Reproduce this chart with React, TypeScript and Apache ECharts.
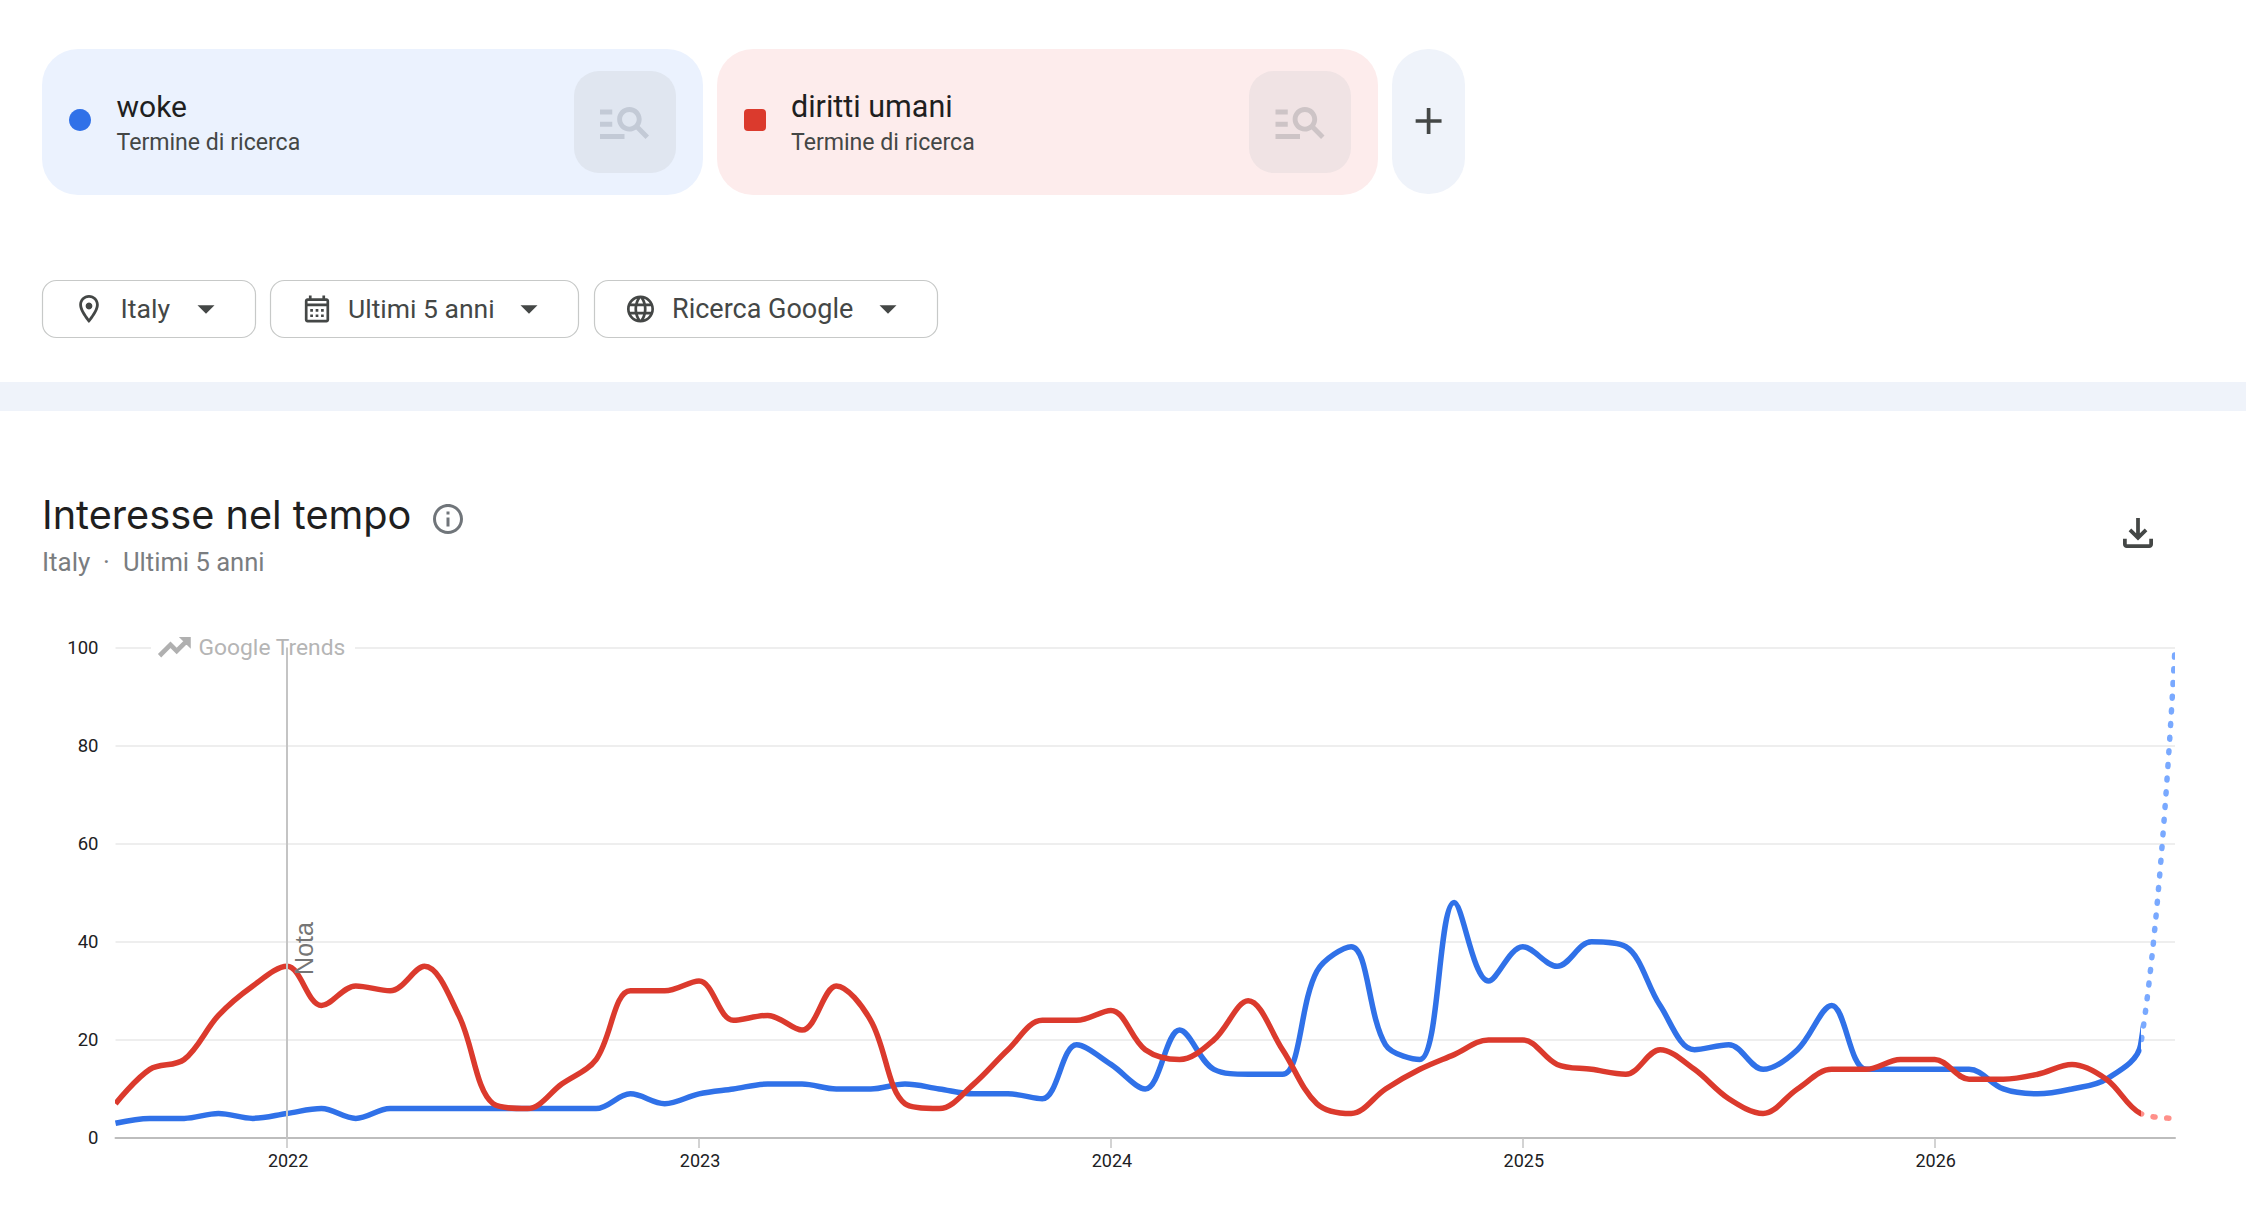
import React, { useEffect, useRef } from "react";
import * as echarts from "echarts";

const months = [
  "2021-08","2021-09","2021-10","2021-11","2021-12",
  "2022-01","2022-02","2022-03","2022-04","2022-05","2022-06","2022-07","2022-08","2022-09","2022-10","2022-11","2022-12",
  "2023-01","2023-02","2023-03","2023-04","2023-05","2023-06","2023-07","2023-08","2023-09","2023-10","2023-11","2023-12",
  "2024-01","2024-02","2024-03","2024-04","2024-05","2024-06","2024-07","2024-08","2024-09","2024-10","2024-11","2024-12",
  "2025-01","2025-02","2025-03","2025-04","2025-05","2025-06","2025-07","2025-08","2025-09","2025-10","2025-11","2025-12",
  "2026-01","2026-02","2026-03","2026-04","2026-05","2026-06","2026-07","2026-08",
];
const wokeValues = [
  3,4,4,5,4,
  5,6,4,6,6,6,6,6,6,6,9,7,
  9,10,11,11,10,10,11,10,9,9,8,19,
  15,10,22,14,13,13,34,39,19,16,48,32,
  39,35,40,39,27,18,19,14,18,27,14,14,
  14,14,10,9,10,12,19,100,
];
const dirittiValues = [
  7,14,16,25,31,
  35,27,31,30,35,25,7,6,11,16,30,30,
  32,24,25,22,31,24,7,6,11,18,24,24,
  26,18,16,20,28,18,7,5,10,14,17,20,
  20,15,14,13,18,14,8,5,10,14,14,16,
  16,12,12,13,15,12,5,4,
];
const yTicks = { min: 0, max: 100, step: 20 };
const lastComplete = 59; // index of the last complete month; the step after it is dotted

const PATHS: Record<string, string> = {
  pinIcon: "M12 2C8.13 2 5 5.13 5 9c0 5.25 7 13 7 13s7-7.75 7-13c0-3.87-3.13-7-7-7zM7 9c0-2.76 2.24-5 5-5s5 2.24 5 5c0 2.88-2.88 7.19-5 9.88C9.92 16.21 7 11.85 7 9z",
  calIcon: "M19 4h-1V2h-2v2H8V2H6v2H5c-1.1 0-2 .9-2 2v14c0 1.1.9 2 2 2h14c1.1 0 2-.9 2-2V6c0-1.1-.9-2-2-2zm0 16H5V10h14v10zm0-12H5V6h14v2zM7 12h2v2H7zM11 12h2v2h-2zM15 12h2v2h-2zM7 16h2v2H7zM11 16h2v2h-2zM15 16h2v2h-2z",
  globeIcon: "M11.99 2C6.47 2 2 6.48 2 12s4.47 10 9.99 10C17.52 22 22 17.52 22 12S17.52 2 11.99 2zm6.93 6h-2.95c-.32-1.25-.78-2.45-1.38-3.56 1.84.63 3.37 1.91 4.33 3.56zM12 4.04c.83 1.2 1.48 2.53 1.91 3.96h-3.82c.43-1.43 1.08-2.76 1.91-3.96zM4.26 14C4.1 13.36 4 12.69 4 12s.1-1.36.26-2h3.38c-.08.66-.14 1.32-.14 2 0 .68.06 1.34.14 2H4.26zm.82 2h2.95c.32 1.25.78 2.45 1.38 3.56-1.84-.63-3.37-1.9-4.33-3.56zm2.95-8H5.08c.96-1.66 2.49-2.93 4.33-3.56C8.81 5.55 8.35 6.75 8.03 8zM12 19.96c-.83-1.2-1.48-2.53-1.91-3.96h3.82c-.43 1.43-1.08 2.76-1.91 3.96zM14.34 14H9.66c-.09-.66-.16-1.32-.16-2 0-.68.07-1.35.16-2h4.68c.09.65.16 1.32.16 2 0 .68-.07 1.34-.16 2zm.25 5.56c.6-1.11 1.06-2.31 1.38-3.56h2.95c-.96 1.65-2.49 2.93-4.33 3.56zM16.36 14c.08-.66.14-1.32.14-2 0-.68-.06-1.34-.14-2h3.38c.16.64.26 1.31.26 2s-.1 1.36-.26 2h-3.38z",
  infoIcon: "M11 7h2v2h-2zm0 4h2v6h-2zm1-9C6.48 2 2 6.48 2 12s4.48 10 10 10 10-4.48 10-10S17.52 2 12 2zm0 18c-4.41 0-8-3.59-8-8s3.59-8 8-8 8 3.59 8 8-3.59 8-8 8z",
  downloadIcon: "M12 16L7 11l1.4-1.45L11 12.15V4h2v8.15l2.6-2.6L17 11zM6 20c-.55 0-1.02-.2-1.41-.59S4 18.55 4 18v-3h2v3h12v-3h2v3c0 .55-.2 1.02-.59 1.41S18.55 20 18 20z",
  searchIcon: "M7 9H2V7h5v2zm0 3H2v2h5v-2zm13.59 7-3.83-3.83c-.8.52-1.74.83-2.76.83-2.76 0-5-2.24-5-5s2.24-5 5-5 5 2.24 5 5c0 1.02-.31 1.96-.83 2.75L22 17.59 20.59 19zM17 11c0-1.65-1.35-3-3-3s-3 1.35-3 3 1.35 3 3 3 3-1.35 3-3zM2 19h10v-2H2v2z",
  trendIcon: "M16 6l2.29 2.29-4.88 4.88-4-4L2 16.59 3.41 18l6-6 4 4 6.3-6.29L22 12V6z",
  plusIcon: "M19 13h-6v6h-2v-6H5v-2h6V5h2v6h6v2z",
  arrowIcon: "M7 10l5 5 5-5z",
};
let registered = false;
function registerIcons() {
  if (registered) return;
  registered = true;
  Object.keys(PATHS).forEach((k) => {
    echarts.graphic.registerShape(k, echarts.graphic.extendPath(PATHS[k], {}) as any);
  });
}

const FONT = "Roboto, sans-serif";
// y is the text's baseline
const text = (s: string, x: number, y: number, size: number, fill: string, family = FONT) => ({
  type: "text", x, y: y - 0.35 * size, z: 5, silent: true,
  style: { text: s, font: `${size}px ${family}`, fill, align: "left", verticalAlign: "middle" },
});
const box = (x: number, y: number, w: number, h: number, r: number, style: any, z = 1) => ({
  type: "rect", z, silent: true, shape: { x, y, width: w, height: h, r }, style,
});
// icon centred on (cx, cy), where (ox, oy) is the centre of the glyph in its 24-unit box
const icon = (name: string, cx: number, cy: number, s: number, fill: string, ox = 12, oy = 12, extra: any = {}) => ({
  type: name, x: cx - ox * s, y: cy - oy * s, scaleX: s, scaleY: s, z: 5, silent: true, style: { fill, ...extra },
});

const filterStroke = { fill: "#ffffff", stroke: "#c7c9c8", lineWidth: 1.2 };
const graphics: any[] = [
  // search-term cards
  box(42, 49, 661, 146, 36, { fill: "#ebf2fe" }),
  box(574, 71, 102, 102, 25, { fill: "#e0e6f0" }, 2),
  icon("searchIcon", 624.5, 123, 2.45, "#c3cad6", 12, 12.5),
  { type: "circle", z: 5, silent: true, shape: { cx: 80, cy: 120, r: 11 }, style: { fill: "#3071e8" } },
  text("woke", 116.5, 117, 30, "#1f1f1f"),
  text("Termine di ricerca", 116.5, 151, 23.1, "#444746"),

  box(717, 49, 661, 146, 36, { fill: "#fdecec" }),
  box(1249, 71, 102, 102, 25, { fill: "#f0e3e4" }, 2),
  icon("searchIcon", 1300, 123, 2.45, "#cdc4c6", 12, 12.5),
  box(744, 109, 22, 22, 4, { fill: "#db3a2d" }, 5),
  text("diritti umani", 791, 117, 30.5, "#1f1f1f"),
  text("Termine di ricerca", 791, 151, 23.1, "#444746"),

  box(1392, 49, 73, 145, 36, { fill: "#eff3fa" }),
  icon("plusIcon", 1428.6, 121, 1.85, "#444746"),

  // filter chips
  box(42.5, 280.5, 213, 57, 14, filterStroke),
  icon("pinIcon", 89, 309, 1.4, "#444746"),
  { type: "circle", z: 5, silent: true, shape: { cx: 89, cy: 306, r: 3.4 }, style: { fill: "#444746" } },
  text("Italy", 120.5, 318, 26.7, "#444746"),
  icon("arrowIcon", 206, 309.5, 1.7, "#444746", 12, 12.5),

  box(270.5, 280.5, 308, 57, 14, filterStroke),
  icon("calIcon", 317, 309, 1.35, "#444746"),
  text("Ultimi 5 anni", 348, 318, 26.5, "#444746"),
  icon("arrowIcon", 529, 309.5, 1.7, "#444746", 12, 12.5),

  box(594.5, 280.5, 343, 57, 14, filterStroke),
  icon("globeIcon", 640.5, 309, 1.35, "#444746"),
  text("Ricerca Google", 672, 318, 27, "#444746"),
  icon("arrowIcon", 888, 309.5, 1.7, "#444746", 12, 12.5),

  // separator band
  box(0, 382, 2246, 29, 0, { fill: "#eff3fa" }),

  // section heading
  text("Interesse nel tempo", 42, 529, 39.7, "#1f1f1f", "Inter, Roboto, sans-serif"),
  icon("infoIcon", 448, 519, 1.5, "#70757a"),
  text("Italy", 42, 571, 26, "#7a7d80"),
  text("\u00B7", 103, 571, 26, "#7a7d80"),
  text("Ultimi 5 anni", 123, 571, 25.6, "#7a7d80"),
  icon("downloadIcon", 2138, 533, 1.875, "#444746"),

  // Google Trends watermark and note label
  box(151, 636, 204, 24, 0, { fill: "#ffffff" }, 1),
  icon("trendIcon", 174.5, 647, 1.55, "#b0b0b0", 12, 12, { stroke: "#b0b0b0", lineWidth: 1 }),
  text("Google Trends", 198.5, 655, 22.8, "#b5b5b5"),
  {
    type: "text", x: 304, y: 948.5, rotation: Math.PI / 2, z: 5, silent: true,
    style: { text: "Nota", font: "25px 'Liberation Sans', Arial, sans-serif", fill: "#757575", align: "center", verticalAlign: "middle" },
  },
];

const isJanuary = (m: string) => m.endsWith("-01");

const CLEAR = "rgba(0,0,0,0)";
const baseSeries = (name: string, data: number[], z: number, lineStyle: any) => ({
  name, type: "line", data, z, smooth: 0.35, symbol: "none", silent: true, lineStyle,
});
// The complete and the partial stretch share one curve; a hidden visualMap shows each on its own side.
const piece = (seriesIndex: number, before: string, after: string) => ({
  type: "piecewise", show: false, seriesIndex, dimension: 0,
  pieces: [
    { min: 0, max: lastComplete, color: before },
    { min: lastComplete, max: months.length - 1, color: after },
  ],
});

export default function App() {
  const ref = useRef<HTMLDivElement>(null);
  useEffect(() => {
    registerIcons();
    const chart = echarts.init(ref.current!, undefined, { renderer: "svg", width: 2246, height: 1228 });
    chart.setOption({
      animation: false,
      backgroundColor: "#ffffff",
      textStyle: { fontFamily: FONT },
      grid: { left: 115.5, right: 71, top: 647.5, bottom: 90, containLabel: false },
      xAxis: {
        type: "category",
        data: months,
        boundaryGap: false,
        axisLine: { lineStyle: { color: "#bdbdbd", width: 2 } },
        axisTick: { alignWithLabel: true, interval: (_: number, v: string) => isJanuary(v), length: 10, lineStyle: { color: "#c4c4c4", width: 1.5 } },
        axisLabel: {
          interval: (_: number, v: string) => isJanuary(v),
          formatter: (v: string) => v.slice(0, 4),
          fontSize: 18, color: "#202124", fontFamily: FONT, margin: 13, padding: [0, 0, 0, 2],
        },
        splitLine: { show: false },
      },
      yAxis: {
        type: "value",
        min: yTicks.min, max: yTicks.max, interval: yTicks.step,
        axisLine: { show: false },
        axisTick: { show: false },
        axisLabel: { fontSize: 18.5, color: "#202124", fontFamily: FONT, margin: 17, padding: [0, 0, 2, 0] },
        splitLine: { lineStyle: { color: "#e9e9e9", width: 1.5 } },
      },
      visualMap: [
        piece(0, CLEAR, "#79a9ff"),
        piece(1, CLEAR, "#ff908a"),
        piece(2, "#3071e8", CLEAR),
        piece(3, "#db3a2d", CLEAR),
      ],
      series: [
        baseSeries("woke (parziale)", wokeValues, 2, { width: 5.5, type: [2, 11.7], cap: "round" }),
        baseSeries("diritti umani (parziale)", dirittiValues, 2, { width: 5.5, type: [2, 11.7], cap: "round" }),
        {
          ...baseSeries("woke", wokeValues, 3, { width: 5.5, join: "round" }),
          markLine: {
            silent: true, symbol: "none", animation: false,
            label: { show: false },
            lineStyle: { color: "#c4c4c4", width: 2, type: "solid" },
            data: [{ xAxis: "2022-01" }],
          },
        },
        baseSeries("diritti umani", dirittiValues, 4, { width: 5.5, join: "round" }),
      ],
      graphic: { elements: graphics },
    });
    return () => chart.dispose();
  }, []);
  return <div ref={ref} style={{ position: "absolute", left: 0, top: 0, width: 2246, height: 1228 }} />;
}
